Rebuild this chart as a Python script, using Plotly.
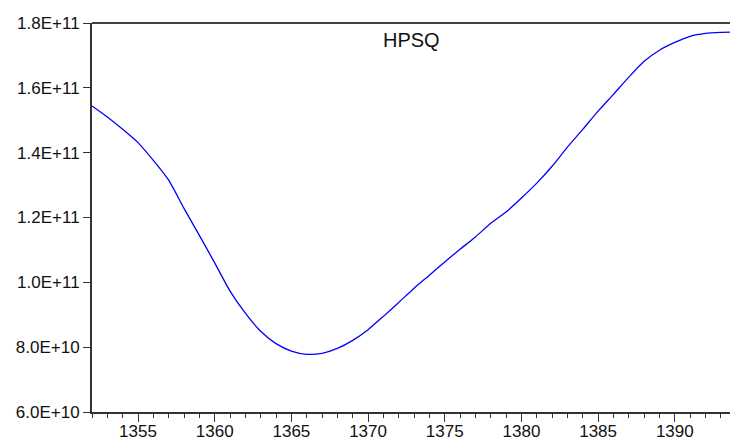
import plotly.graph_objects as go

years = list(range(1352, 1395))
hpsq = [15.44, 15.10, 14.72, 14.31, 13.76, 13.15, 12.28, 11.45, 10.60, 9.73,
        9.05, 8.49, 8.11, 7.88, 7.78, 7.81, 7.96, 8.21, 8.54, 8.95,
        9.38, 9.82, 10.22, 10.63, 11.02, 11.40, 11.82, 12.17, 12.60, 13.06,
        13.58, 14.17, 14.72, 15.28, 15.80, 16.33, 16.82, 17.16, 17.40, 17.59,
        17.68, 17.71, 17.72]
hpsq = [v * 1e10 for v in hpsq]

ytick_vals = [6e10, 8e10, 1e11, 1.2e11, 1.4e11, 1.6e11, 1.8e11]
ytick_text = ["6.0E+10", "8.0E+10", "1.0E+11", "1.2E+11", "1.4E+11", "1.6E+11", "1.8E+11"]
title_text = "HPSQ"

font = dict(family="Liberation Sans, Arial, sans-serif", size=17, color="#111111")

fig = go.Figure()
fig.add_trace(go.Scatter(x=years, y=hpsq, mode="lines", line_shape="spline",
                         line=dict(color="#0000ff", width=1.3, smoothing=0.6),
                         showlegend=False))

fig.update_layout(
    width=730, height=440,
    margin=dict(l=92, r=0, t=23, b=28),
    paper_bgcolor="white", plot_bgcolor="white",
    font=font,
    xaxis=dict(range=[1352, 1393.6], tickmode="linear", tick0=1355, dtick=5,
               ticks="outside", ticklen=8, tickcolor="#333333", tickwidth=1,
               ticklabelstandoff=-5,
               showline=True, linecolor="#333333", linewidth=2, automargin=False,
               showgrid=False, zeroline=False, tickfont=font,
               minor=dict(dtick=1, tick0=1352, ticks="outside", ticklen=4,
                          tickcolor="#333333", showgrid=False)),
    yaxis=dict(range=[6e10, 1.8e11], tickvals=ytick_vals, ticktext=ytick_text,
               ticks="outside", ticklen=7, tickcolor="#333333", tickwidth=1,
               showline=True, linecolor="#333333", linewidth=2, automargin=False,
               showgrid=False, zeroline=False, tickfont=font),
    shapes=[dict(type="line", xref="paper", yref="paper", x0=0, x1=1, y0=1, y1=1,
                 line=dict(color="black", width=1.5))],
    annotations=[dict(text=title_text, xref="paper", yref="paper", x=0.5, y=0.99,
                      xanchor="center", yanchor="top", showarrow=False,
                      font=dict(family="Liberation Sans, Arial, sans-serif", size=20, color="#111111"))],
)

fig.write_html("out.html", config={"displayModeBar": False},
               post_script="document.body.style.margin='0';document.body.style.overflow='hidden';")
